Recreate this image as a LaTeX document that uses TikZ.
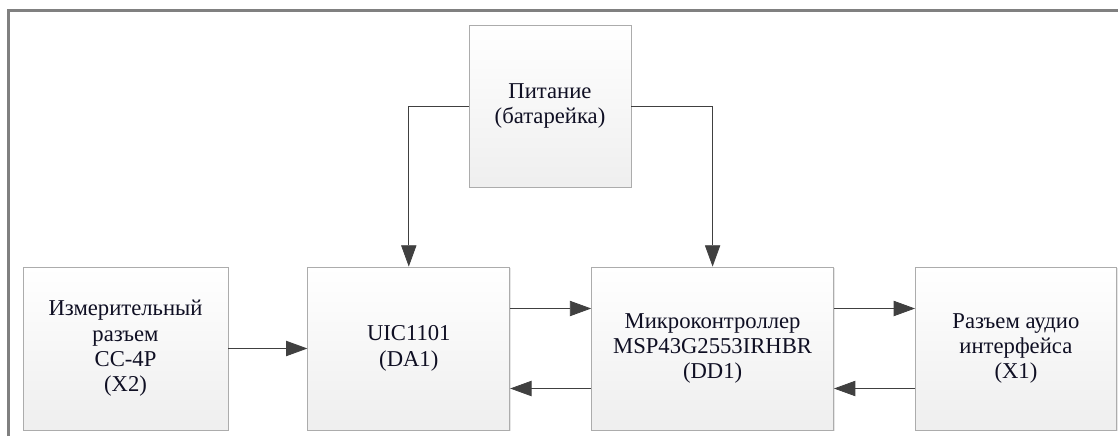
\documentclass[tikz,border=0pt]{standalone}
\usepackage{fontspec}
\setmainfont{Liberation Serif}
\usetikzlibrary{arrows.meta,shadows,positioning}
\definecolor{textcol}{RGB}{15,15,35}
\definecolor{framecol}{RGB}{128,128,128}

\begin{document}
\begin{tikzpicture}[
  x=0.75pt, y=-0.75pt,
  font=\fontsize{17}{19}\selectfont,
  block/.style={draw=gray!65, line width=0.6pt, top color=white, bottom color=gray!13, align=center, text=textcol, inner sep=2pt,
    drop shadow={shadow xshift=1pt, shadow yshift=-1pt, opacity=0.2}},
  link/.style={draw=black!75, line width=0.6pt, -{Triangle[length=16pt, width=11.5pt]}}
]
\useasboundingbox (0,0) rectangle (1118,436);

% frame
\draw[framecol, line width=2.25pt] (8,436) -- (8,10) -- (1118,10);

\node[block, minimum width=153.75pt, minimum height=122.25pt] (meas) at (125.5,348.5) {Измерительный\\разъем\\CC-4P\\(X2)};
\node[block, minimum width=151.5pt, minimum height=122.25pt, right=59.25pt of meas] (uic) {UIC1101\\(DA1)};
\node[block, minimum width=181.5pt, minimum height=122.25pt, right=60.75pt of uic] (mcu) {Микроконтроллер\\MSP43G2553IRHBR\\(DD1)};
\node[block, minimum width=150.75pt, minimum height=122.25pt, right=60.75pt of mcu] (audio) {Разъем аудио\\интерфейса\\(X1)};
\node[block, minimum width=121.5pt, minimum height=121.5pt] (power) at (550,106) {Питание\\(батарейка)};

\draw[link] (meas.east) -- (uic.west);
\draw[link] ([yshift=30pt]uic.east) -- ([yshift=30pt]mcu.west);
\draw[link] ([yshift=-30pt]mcu.west) -- ([yshift=-30pt]uic.east);
\draw[link] ([yshift=30pt]mcu.east) -- ([yshift=30pt]audio.west);
\draw[link] ([yshift=-30pt]audio.west) -- ([yshift=-30pt]mcu.east);
\draw[link] (power.west) -| (uic.north);
\draw[link] (power.east) -| (mcu.north);

\end{tikzpicture}
\end{document}
